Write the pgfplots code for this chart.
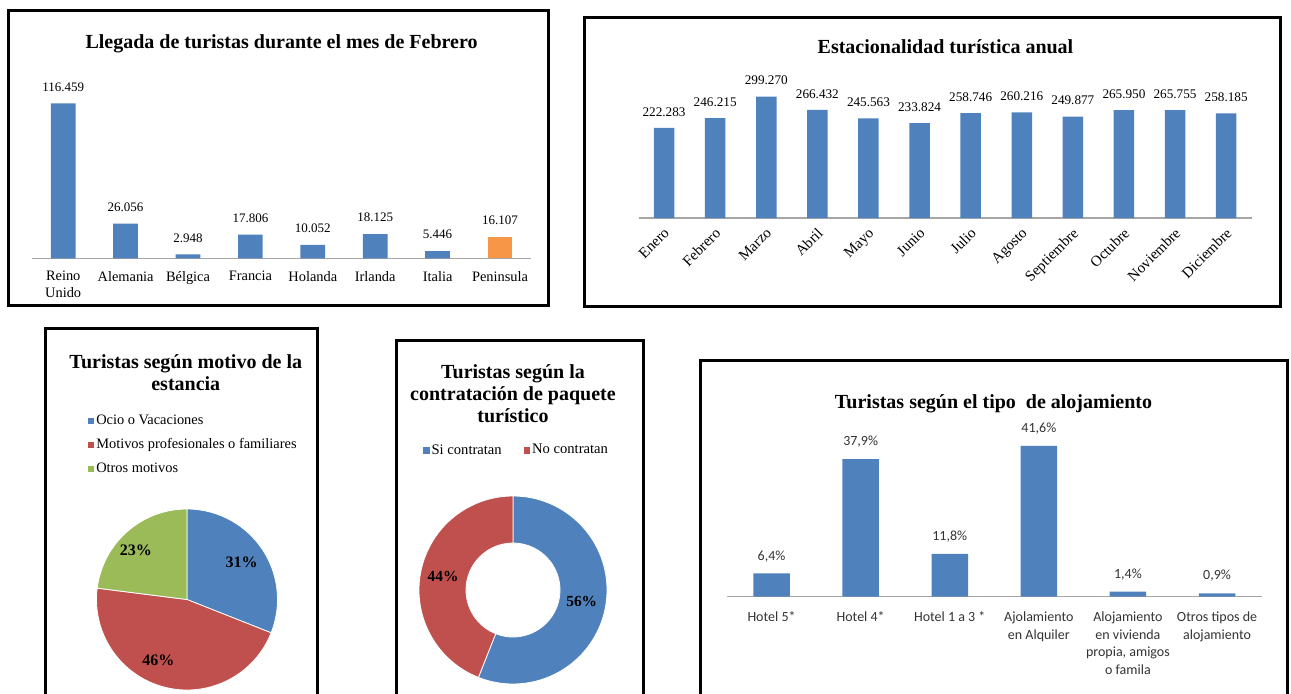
\documentclass[border=0pt]{standalone}
\usepackage{pgfplots}
\pgfplotsset{compat=1.18}
\usepackage{fontspec}
\setmainfont{Liberation Serif}
\newfontfamily\calibri{Carlito}

\definecolor{xlblue}{HTML}{4F81BD}
\definecolor{xlred}{HTML}{C0504D}
\definecolor{xlgreen}{HTML}{9BBB59}
\definecolor{xlorange}{HTML}{F79646}
\definecolor{axgray}{HTML}{A6A6A6}

\pgfplotsset{
  barpanel/.style={
    scale only axis, anchor=south west, ybar, bar shift=0pt,
    enlargelimits=false, ymin=0, clip=false,
    axis line style={draw=none}, ytick=\empty, major tick length=0pt,
    extra y ticks={0}, extra y tick labels={},
    extra y tick style={grid=major, major grid style={axgray, line width=0.6pt}},
    /pgf/number format/assume math mode=true,
  },
  squarelegend/.style={
    legend cell align=left,
    legend image code/.code={\path[##1] (0pt,-1.6pt) rectangle (3.2pt,1.6pt);},
  },
}

% pie slice: from %, to %, colour, label, label angle, label distance
\newcommand\pieslice[6]{%
  \fill[#3, draw=white, line width=0.4pt] (axis cs:0,0) -- ++({90-3.6*#1}:45.25pt)
    arc[start angle={90-3.6*#1}, end angle={90-3.6*#2}, radius=45.25pt] -- cycle;
  \node[font=\bfseries\fontsize{8}{9}\selectfont] at ([shift={(#5:#6)}]axis cs:0,0) {#4};
}
\newcommand\ringslice[6]{%
  \fill[#3, draw=white, line width=0.4pt] (axis cs:0,0) ++({90-3.6*#1}:47pt)
    arc[start angle={90-3.6*#1}, end angle={90-3.6*#2}, radius=47pt]
    -- ++({90-3.6*#2}:-23.5pt)
    arc[start angle={90-3.6*#2}, end angle={90-3.6*#1}, radius=23.5pt] -- cycle;
  \node[font=\bfseries\fontsize{7.7}{9}\selectfont] at ([shift={(#5:#6)}]axis cs:0,0) {#4};
}

\begin{document}
\begin{tikzpicture}
\useasboundingbox (0,0) rectangle (645.5pt,346.5pt);
\clip (0,0) rectangle (645.5pt,346.5pt);

% frames
\draw[line width=1.5pt] (4pt,194pt) rectangle (274pt,341.5pt);
\draw[line width=1.5pt] (292pt,193.5pt) rectangle (640pt,338pt);
\draw[line width=1.5pt] (22.5pt,-5pt) -- (22.5pt,182.5pt) -- (158.5pt,182.5pt) -- (158.5pt,-5pt);
\draw[line width=1.5pt] (198.35pt,-5pt) -- (198.35pt,176.5pt) -- (321.65pt,176.5pt) -- (321.65pt,-5pt);
\draw[line width=1.5pt] (350pt,-5pt) -- (350pt,166.5pt) -- (643.5pt,166.5pt) -- (643.5pt,-5pt);

% titles
\node[font=\bfseries\fontsize{10}{11}\selectfont] at (140.8pt,324.85pt) {Llegada de turistas durante el mes de Febrero};
\node[font=\bfseries\fontsize{10}{11}\selectfont] at (472.75pt,323.15pt) {Estacionalidad turística anual};
\node[font=\bfseries\fontsize{10}{11}\selectfont, align=center] at (92.9pt,160.25pt) {Turistas según motivo de la\\estancia};
\node[font=\bfseries\fontsize{10}{11}\selectfont, align=center] at (256.5pt,149.5pt) {Turistas según la\\contratación de paquete\\turístico};
\node[font=\bfseries\fontsize{10}{11}\selectfont] at (496.75pt,144.85pt) {Turistas según el tipo\ \ de alojamiento};

% panel 1
\begin{axis}[barpanel,
  at={(16pt,217.35pt)}, width=249.6pt, height=89.15pt,
  xmin=-0.5, xmax=7.5, ymax=133960, bar width=12.35pt,
  xtick={0,...,7},
  xticklabels={Reino\\Unido, Alemania, Bélgica, Francia, Holanda, Irlanda, Italia, Peninsula},
  xticklabel style={font=\fontsize{7.2}{8.5}\selectfont, align=center, yshift=-3pt},
  nodes near coords={\pgfmathprintnumber[fixed,precision=0,1000 sep={.}]{\pgfplotspointmeta}},
  every node near coord/.append style={font=\fontsize{6.5}{7}\selectfont, yshift=2.5pt},
]
\addplot[fill=xlblue, draw=none] coordinates {
(0,116459) (1,26056) (2,2948) (3,17806) (4,10052) (5,18125) (6,5446)};
\addplot[fill=xlorange, draw=none] coordinates {(7,16107)};
\end{axis}

% panel 2
\begin{axis}[barpanel,
  at={(319.25pt,237.5pt)}, width=306.6pt, height=71.5pt,
  xmin=-0.5, xmax=11.5, ymax=352500, bar width=10.25pt,
  xtick={0,...,11},
  xticklabels={Enero, Febrero, Marzo, Abril, Mayo, Junio, Julio, Agosto, Septiembre, Octubre, Noviembre, Diciembre},
  xticklabel style={font=\fontsize{7.5}{8}\selectfont, xshift=-0.5pt, yshift=0.5pt, rotate=45, anchor=north east},
  nodes near coords={\pgfmathprintnumber[fixed,precision=0,1000 sep={.}]{\pgfplotspointmeta}},
  every node near coord/.append style={font=\fontsize{6.6}{7}\selectfont, yshift=2.2pt},
]
\addplot[fill=xlblue, draw=none] coordinates {
(0,222283) (1,246215) (2,299270) (3,266432) (4,245563) (5,233824)
(6,258746) (7,260216) (8,249877) (9,265950) (10,265755) (11,258185)};
\end{axis}

% panel 3: pie
\begin{axis}[at={(93.5pt,46.75pt)}, anchor=center, scale only axis,
  width=90.5pt, height=90.5pt, xmin=-1, xmax=1, ymin=-1, ymax=1,
  hide axis, clip=false, squarelegend,
  legend style={draw=none, fill=none, at={(-0.05,1.533)}, anchor=north west,
    font=\fontsize{7.2}{8}\selectfont, row sep=3.5pt, inner sep=0pt,
    nodes={inner xsep=1pt, inner ysep=1pt}},
]
\addlegendimage{fill=xlblue, draw=none}
\addlegendentry{Ocio o Vacaciones}
\addlegendimage{fill=xlred, draw=none}
\addlegendentry{Motivos profesionales o familiares}
\addlegendimage{fill=xlgreen, draw=none}
\addlegendentry{Otros motivos}
\pieslice{0}{31}{xlblue}{31\%}{34.2}{33pt}
\pieslice{31}{77}{xlred}{46\%}{-115.4}{33.5pt}
\pieslice{77}{100}{xlgreen}{23\%}{136.3}{35.3pt}
\end{axis}

% panel 4: doughnut
\begin{axis}[at={(256.5pt,51.5pt)}, anchor=center, scale only axis,
  width=94pt, height=94pt, xmin=-1, xmax=1, ymin=-1, ymax=1,
  hide axis, clip=false, squarelegend,
  legend style={draw=none, fill=none, at={(0.519,1.241)}, anchor=center,
    font=\fontsize{7.3}{8}\selectfont, inner sep=0pt,
    nodes={inner xsep=1pt, inner ysep=1pt},
    /tikz/every even column/.append style={column sep=10pt}},
  legend columns=2,
]
\addlegendimage{fill=xlblue, draw=none}
\addlegendentry{Si contratan}
\addlegendimage{fill=xlred, draw=none}
\addlegendentry{No contratan}
\ringslice{0}{56}{xlblue}{56\%}{-9.7}{34.85pt}
\ringslice{56}{100}{xlred}{44\%}{169.2}{35.6pt}
\end{axis}

% panel 5
\begin{axis}[barpanel,
  at={(363.5pt,48.15pt)}, width=267.3pt, height=88.35pt,
  xmin=-0.5, xmax=5.5, ymax=48.7, bar width=18.25pt,
  xtick={0,...,5},
  xticklabels={Hotel 5*, Hotel 4*, Hotel 1 a 3 *, Ajolamiento\\en Alquiler,
    {Alojamiento\\en vivienda\\propia, amigos\\o famila}, Otros tipos de\\alojamiento},
  xticklabel style={font=\calibri\fontsize{7}{8.8}\selectfont, align=center, text=black!80, yshift=-4pt},
  nodes near coords={\pgfmathprintnumber[fixed,fixed zerofill,precision=1,use comma]{\pgfplotspointmeta}\%},
  every node near coord/.append style={font=\calibri\fontsize{7}{8}\selectfont, text=black!80, yshift=2.3pt},
]
\addplot[fill=xlblue, draw=none] coordinates {
(0,6.4) (1,37.9) (2,11.8) (3,41.6) (4,1.4) (5,0.9)};
\end{axis}
\end{tikzpicture}
\end{document}
